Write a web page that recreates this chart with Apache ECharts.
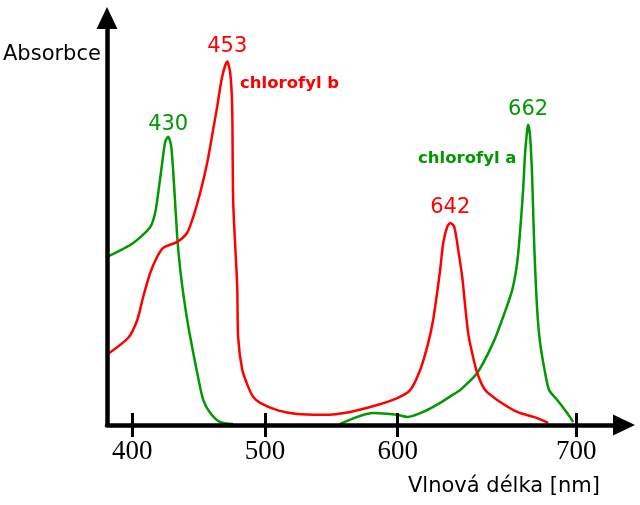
<!DOCTYPE html>
<html>
<head>
<meta charset="utf-8">
<script src="https://cdn.jsdelivr.net/npm/echarts@6/dist/echarts.min.js"></script>
<style>
  html, body { margin: 0; padding: 0; background: #fff; }
  #chart { width: 640px; height: 505px; }
</style>
</head>
<body>
<div id="chart"></div>
<script>
// vlnová délka (poloha podle obrázku) a relativní absorbance
const greenNm  = [381.2, 400.8, 413.6, 417.3, 419.6, 422.6, 424.9, 427.1, 429.4, 431.6, 433.9, 436.2, 439.9, 443.7, 449.0, 453.5, 458.8, 466.3, 476.1,
                  520,
                  556.7, 581.5, 599.6, 607.2, 619.2, 632.0, 644.8, 647.1, 659.9, 671.9, 679.5, 686.3, 690.0, 692.3, 694.5, 696.0, 697.6, 698.3,
                  699.8, 701.3, 702.8, 705.1, 707.3, 711.1, 714.1, 720.2, 727.7, 732.2];
const greenAbs = [46.3, 50.1, 54.5, 58.4, 63.9, 72.2, 78.0, 79.3, 76.6, 65.6, 51.8, 42.7, 32.5, 24.2, 14.3, 6.9, 3.3, 0.8, 0.3,
                  null,
                  0.3, 3.3, 2.8, 2.2, 3.6, 6.1, 9.1, 9.6, 14.3, 22.6, 29.8, 37.2, 44.6, 53.7, 64.7, 74.9, 81.3, 82.6,
                  79.3, 68.3, 50.1, 31.7, 22.6, 14.3, 9.6, 6.9, 3.3, 0.8];

const redNm  = [381.9, 397.0, 403.8, 408.3, 413.6, 418.8, 423.4, 433.9, 441.4, 446.0, 451.2, 456.5, 461.0, 464.0, 467.8, 471.6, 473.8, 475.3,
                476.1, 479.1, 479.8, 482.9, 487.4, 491.2, 496.4, 509.2, 524.3, 543.9, 564.2, 584.6, 599.6, 609.4, 617.0, 623.0, 626.7,
                629.7, 632.0, 634.3, 637.3, 639.6, 642.6, 645.6, 648.6, 650.9, 653.1, 656.1, 659.9, 665.9, 675.0, 690.0, 705.1, 713.4];
const redAbs = [19.6, 24.0, 28.9, 35.3, 41.9, 46.3, 48.8, 50.4, 52.9, 57.3, 63.9, 72.2, 81.3, 87.6, 95.9, 100, 97.0, 87.6,
                61.2, 38.0, 24.2, 15.2, 10.5, 7.7, 6.1, 4.1, 3.0, 2.8, 3.6, 5.5, 7.4, 9.6, 15.2, 22.6, 28.9,
                36.4, 42.7, 50.1, 54.5, 55.6, 54.5, 48.2, 40.8, 32.5, 25.3, 19.8, 14.3, 9.6, 6.9, 3.6, 1.9, 0.6];

// popisky vrcholů
const greenPeaks = [{ x: 427.1, y: 79.3, text: '430', dy: -12 }, { x: 698.3, y: 82.6, text: '662', dy: -15 }];
const redPeaks   = [{ x: 471.6, y: 100,  text: '453', dy: -15 }, { x: 639.6, y: 55.6, text: '642', dy: -15 }];

// osa x: polohy dílků a jejich popisky
const tickPos    = [400, 500, 600, 734.5];
const tickLabels = ['400', '500', '600', '700'];

const GREEN = '#009900';
const RED = '#ff0000';

const zip = (xs, ys) => xs.map((x, i) => [x, ys[i]]);

const peakMarks = (peaks, color) => ({
  symbol: 'circle',
  symbolSize: 0,
  silent: true,
  data: peaks.map(p => ({
    coord: [p.x, p.y],
    value: p.text,
    label: { offset: [0, p.dy] }
  })),
  label: {
    show: true,
    position: 'inside',
    formatter: '{c}',
    color: color,
    fontFamily: 'DejaVu Sans',
    fontSize: 21
  }
});

const xBase = {
  type: 'value',
  min: 381,
  max: 770.5,
  position: 'bottom',
  splitLine: { show: false },
  z: 5
};

const option = {
  animation: false,
  backgroundColor: '#fff',
  grid: { left: 107, right: 16, top: 18, bottom: 80, containLabel: false, outerBoundsMode: 'none' },
  xAxis: [
    Object.assign({}, xBase, {
      axisLine: {
        show: true,
        symbol: ['none', 'triangle'],
        symbolSize: [21, 22],
        lineStyle: { color: '#000', width: 4.5 }
      },
      axisTick: {
        show: true, inside: false, length: 12, customValues: tickPos,
        lineStyle: { color: '#000', width: 3 }
      },
      axisLabel: {
        show: true, customValues: tickPos, margin: 13,
        color: '#000', fontFamily: 'Liberation Serif', fontSize: 27,
        formatter: v => tickLabels[tickPos.indexOf(v)] || ''
      }
    }),
    Object.assign({}, xBase, {
      axisLine: { show: false },
      axisTick: {
        show: true, inside: true, length: 12, customValues: tickPos,
        lineStyle: { color: '#000', width: 3 }
      },
      axisLabel: { show: false }
    })
  ],
  yAxis: {
    type: 'value',
    min: 0,
    max: 112,
    z: 5,
    axisLine: {
      show: true,
      symbol: ['none', 'triangle'],
      symbolSize: [21, 22],
      lineStyle: { color: '#000', width: 4.5 }
    },
    axisTick: { show: false },
    axisLabel: { show: false },
    splitLine: { show: false }
  },
  graphic: [
    { type: 'text', left: 3, top: 44, style: { text: 'Absorbce', fontFamily: 'DejaVu Sans', fontSize: 21, fill: '#000' } },
    { type: 'text', left: 408, top: 476, style: { text: 'Vlnová délka [nm]', fontFamily: 'DejaVu Sans', fontSize: 21, fill: '#000' } },
    { type: 'text', left: 240, top: 75, style: { text: 'chlorofyl b', fontFamily: 'DejaVu Sans', fontWeight: 'bold', fontSize: 16.5, fill: RED } },
    { type: 'text', left: 418, top: 150, style: { text: 'chlorofyl a', fontFamily: 'DejaVu Sans', fontWeight: 'bold', fontSize: 16.5, fill: GREEN } }
  ],
  series: [
    {
      name: 'chlorofyl a',
      type: 'line',
      xAxisIndex: 0,
      data: zip(greenNm, greenAbs),
      showSymbol: false,
      smooth: 0.25,
      connectNulls: false,
      lineStyle: { color: GREEN, width: 2.5 },
      markPoint: peakMarks(greenPeaks, GREEN)
    },
    {
      name: 'chlorofyl b',
      type: 'line',
      xAxisIndex: 0,
      data: zip(redNm, redAbs),
      showSymbol: false,
      smooth: 0.25,
      lineStyle: { color: RED, width: 2.5 },
      markPoint: peakMarks(redPeaks, RED)
    }
  ]
};

const chart = echarts.init(document.getElementById('chart'));
chart.setOption(option);
</script>
</body>
</html>
